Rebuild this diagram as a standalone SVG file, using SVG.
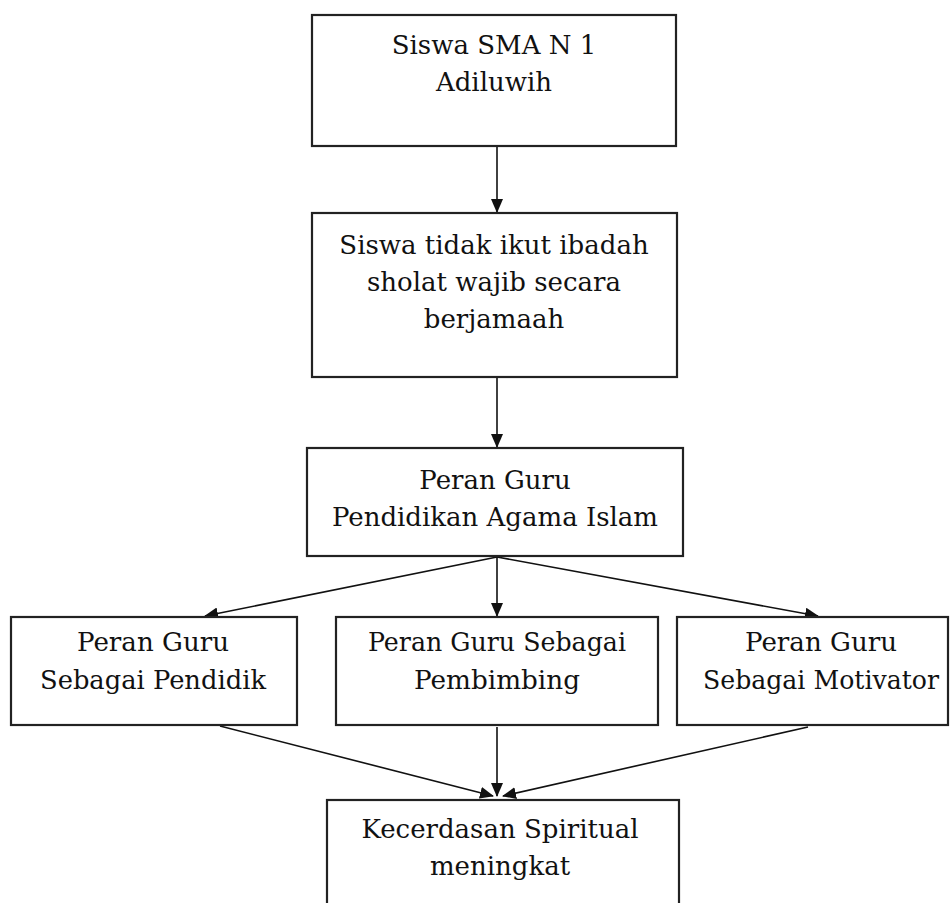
<svg xmlns="http://www.w3.org/2000/svg" width="950" height="903" viewBox="0 0 950 903">
<style>
.box{fill:#fff;stroke:#222;stroke-width:2.2}
.t{font-family:"DejaVu Serif","Liberation Serif",serif;font-size:26px;fill:#111;text-anchor:middle}
.c{stroke:#111;stroke-width:1.6;fill:none;marker-end:url(#ah)}
</style>
<defs>
<marker id="ah" markerUnits="userSpaceOnUse" markerWidth="14" markerHeight="12" refX="13" refY="6" orient="auto">
<path d="M0,0 L14,6 L0,12 z" fill="#111"/>
</marker>
</defs>
<rect width="950" height="903" fill="#fff"/>
<g id="connectors">
<line class="c" x1="497" y1="147" x2="497" y2="212"/>
<line class="c" x1="497" y1="378" x2="497" y2="447"/>
<line class="c" x1="497" y1="557" x2="205" y2="616"/>
<line class="c" x1="497" y1="557" x2="497" y2="616"/>
<line class="c" x1="497" y1="557" x2="818" y2="616"/>
<line class="c" x1="220" y1="726" x2="493" y2="796"/>
<line class="c" x1="497" y1="727" x2="497" y2="796"/>
<line class="c" x1="808" y1="727" x2="503" y2="796"/>
</g>
<g id="n1">
<rect class="box" x="312" y="15" width="364" height="131"/>
<text class="t" x="494" y="54">Siswa SMA N 1</text>
<text class="t" x="494" y="91">Adiluwih</text>
</g>
<g id="n2">
<rect class="box" x="312" y="213" width="365" height="164"/>
<text class="t" x="494" y="254">Siswa tidak ikut ibadah</text>
<text class="t" x="494" y="291">sholat wajib secara</text>
<text class="t" x="494" y="328">berjamaah</text>
</g>
<g id="n3">
<rect class="box" x="307" y="448" width="376" height="108"/>
<text class="t" x="495" y="489">Peran Guru</text>
<text class="t" x="495" y="526">Pendidikan Agama Islam</text>
</g>
<g id="n4">
<rect class="box" x="11" y="617" width="286" height="108"/>
<text class="t" x="153" y="651" textLength="152" lengthAdjust="spacingAndGlyphs">Peran Guru</text>
<text class="t" x="153" y="689" textLength="226" lengthAdjust="spacingAndGlyphs">Sebagai Pendidik</text>
</g>
<g id="n5">
<rect class="box" x="336" y="617" width="322" height="108"/>
<text class="t" x="497" y="651" textLength="258" lengthAdjust="spacingAndGlyphs">Peran Guru Sebagai</text>
<text class="t" x="497" y="689" textLength="166" lengthAdjust="spacingAndGlyphs">Pembimbing</text>
</g>
<g id="n6">
<rect class="box" x="677" y="617" width="271" height="108"/>
<text class="t" x="821" y="651" textLength="152" lengthAdjust="spacingAndGlyphs">Peran Guru</text>
<text class="t" x="821" y="689" textLength="236" lengthAdjust="spacingAndGlyphs">Sebagai Motivator</text>
</g>
<g id="n7">
<rect class="box" x="327" y="800" width="352" height="110"/>
<text class="t" x="500" y="838">Kecerdasan Spiritual</text>
<text class="t" x="500" y="875">meningkat</text>
</g>
</svg>
